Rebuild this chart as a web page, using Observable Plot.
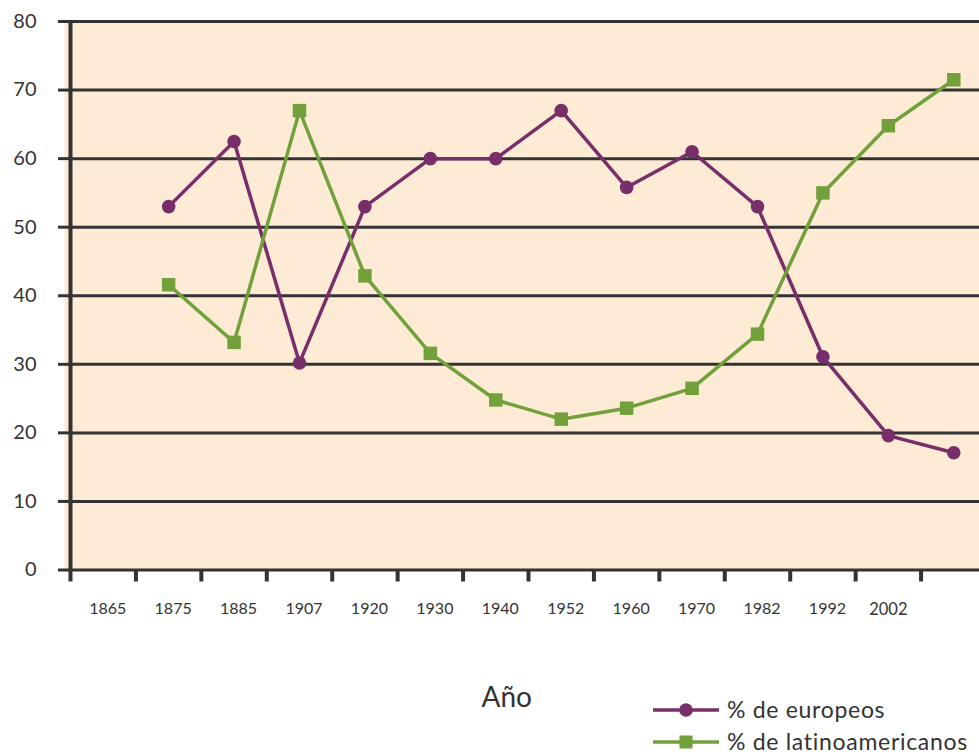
<!DOCTYPE html>
<html>
<head>
<meta charset="utf-8">
<script src="https://cdn.jsdelivr.net/npm/d3@7"></script>
<script src="https://cdn.jsdelivr.net/npm/@observablehq/plot@0.6"></script>
<style>
  body { margin: 0; background: #fff; }
  #wrap { width: 979px; height: 756px; overflow: hidden; font-family: Lato, "Open Sans", sans-serif; }
  #wrap svg { display: block; }
</style>
</head>
<body>
<div id="wrap"></div>
<script>
// Category labels along the horizontal axis
const anos = ["1865", "1875", "1885", "1907", "1920", "1930", "1940",
              "1952", "1960", "1970", "1982", "1992", "2002"];

// Share of immigrants by origin (%); each series starts one slot after the first label
const europeos = [53, 62.5, 30.2, 53, 60, 60, 67, 55.8, 61, 53, 31.1, 19.6, 17.1];
const latinoamericanos = [41.6, 33.2, 67, 42.9, 31.6, 24.8, 22, 23.6, 26.5, 34.4, 55, 64.8, 71.5];

const yTicks = [0, 10, 20, 30, 40, 50, 60, 70, 80];
const slotCount = anos.length + 1;   // one empty slot after the last label
const seriesStart = 1;               // slot of the first data point

const names = ["% de europeos", "% de latinoamericanos"];
const colors = ["#782E68", "#72A03B"];
const ink = "#333333";
const paper = "#FDEBD5";

const rows = (values) => values.map((v, i) => ({slot: i + seriesStart, value: v}));
const eu = rows(europeos);
const la = rows(latinoamericanos);

const chart = Plot.plot({
  width: 979,
  height: 640,
  marginLeft: 70,
  marginRight: 0,
  marginTop: 21,
  marginBottom: 70.5,
  style: {overflow: "hidden", background: "white", fontFamily: "Lato, 'Open Sans', sans-serif"},
  x: {type: "linear", domain: [0, slotCount], range: [70, 986], axis: null},
  y: {domain: [0, 80], axis: null},
  marks: [
    Plot.frame({fill: paper, stroke: "none", insetLeft: -6}),
    Plot.gridY(yTicks, {stroke: ink, strokeOpacity: 1, strokeWidth: 3}),
    Plot.axisY(yTicks, {tickSize: 12, tickPadding: 22, stroke: ink, strokeWidth: 3,
                        fill: ink, fontSize: 20, label: null}),
    Plot.ruleX([0], {stroke: ink, strokeWidth: 4}),
    Plot.axisX(d3.range(0, slotCount), {tickSize: 12, stroke: ink, strokeWidth: 4,
                                       tickFormat: () => "", label: null}),
    Plot.text(anos.slice(0, -1), {x: d => anos.indexOf(d) + 0.5, frameAnchor: "bottom",
                                  dy: 44, dx: 4.5, fontSize: 16, fill: ink,
                                  style: "letter-spacing: 0.4px"}),
    Plot.text(anos.slice(-1), {x: d => anos.indexOf(d) + 0.5, frameAnchor: "bottom",
                               dy: 45, fontSize: 16.5, fill: ink,
                               style: "letter-spacing: 0.4px"}),
    Plot.line(eu, {x: d => d.slot + 0.5, y: "value", stroke: colors[0], strokeWidth: 3.5}),
    Plot.dot(eu, {x: d => d.slot + 0.5, y: "value", r: 6.8, fill: colors[0], stroke: "none"}),
    Plot.line(la, {x: d => d.slot + 0.5, y: "value", stroke: colors[1], strokeWidth: 3.5}),
    Plot.dot(la, {x: d => d.slot + 0.5, y: "value", symbol: "square", r: 7.6, fill: colors[1], stroke: "none"})
  ]
});

const wrap = document.getElementById("wrap");
wrap.appendChild(chart);

// Axis title and legend below the chart
const below = d3.create("svg")
  .attr("width", 979)
  .attr("height", 116)
  .style("font-family", "Lato, 'Open Sans', sans-serif");

below.append("text")
  .attr("x", 481.5).attr("y", 66.5)
  .attr("font-size", 28).attr("fill", ink)
  .text("Año");

const legendRows = [70, 102];
names.forEach((name, k) => {
  const g = below.append("g").attr("transform", `translate(0,${legendRows[k]})`);
  g.append("line").attr("x1", 653).attr("x2", 719).attr("y1", 0).attr("y2", 0)
    .attr("stroke", colors[k]).attr("stroke-width", 3.5);
  if (k === 0) {
    g.append("circle").attr("cx", 686).attr("cy", 0).attr("r", 6.8).attr("fill", colors[k]);
  } else {
    g.append("rect").attr("x", 679.5).attr("y", -6.5).attr("width", 13).attr("height", 13).attr("fill", colors[k]);
  }
  g.append("text").attr("x", 727).attr("y", 7.5)
    .attr("font-size", 23).attr("fill", ink)
    .style("letter-spacing", "0.7px")
    .text(name);
});

wrap.appendChild(below.node());
</script>
</body>
</html>
